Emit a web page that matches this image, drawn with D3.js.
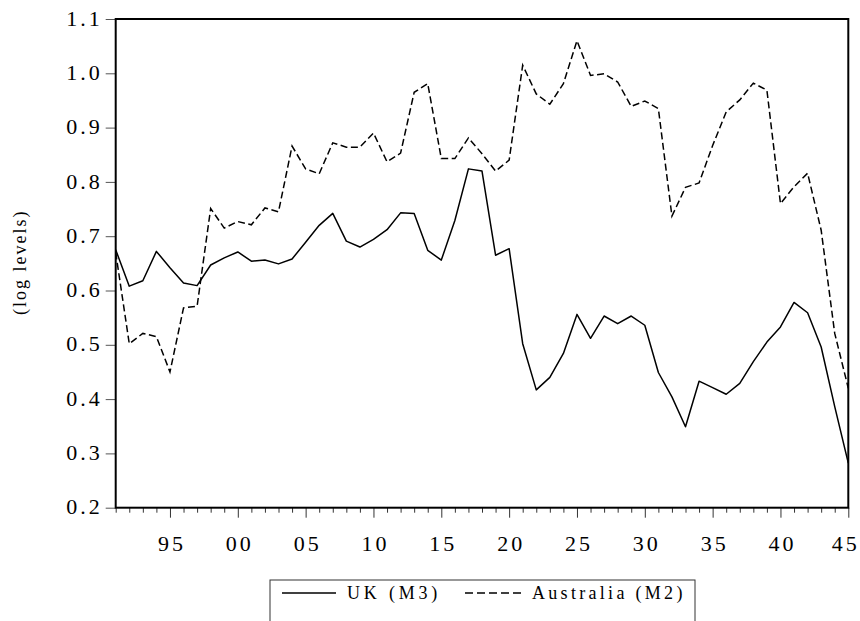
<!DOCTYPE html>
<html lang="en">
    <head>
        <meta charset="utf-8">
        <title>UK and Australia money</title>
        <script type="text/javascript" src="https://cdn.jsdelivr.net/npm/d3@7"></script>
        <style>
          body { margin: 0; background: white; }
          text { font-family: "Liberation Serif", "Times New Roman", serif; fill: black; }
        </style>
    </head>
    <body>
        <script type="text/javascript">

          // data (log levels, one point per year)
          var years = [1991, 1992, 1993, 1994, 1995, 1996, 1997, 1998, 1999, 2000,
                       2001, 2002, 2003, 2004, 2005, 2006, 2007, 2008, 2009, 2010,
                       2011, 2012, 2013, 2014, 2015, 2016, 2017, 2018, 2019, 2020,
                       2021, 2022, 2023, 2024, 2025, 2026, 2027, 2028, 2029, 2030,
                       2031, 2032, 2033, 2034, 2035, 2036, 2037, 2038, 2039, 2040,
                       2041, 2042, 2043, 2044, 2045];

          var ukM3 = [0.675, 0.608, 0.618, 0.672, 0.642, 0.614, 0.609, 0.647, 0.660, 0.671,
                      0.654, 0.656, 0.649, 0.658, 0.689, 0.720, 0.742, 0.691, 0.680, 0.694,
                      0.712, 0.743, 0.742, 0.674, 0.656, 0.729, 0.824, 0.820, 0.665, 0.677,
                      0.502, 0.417, 0.440, 0.484, 0.556, 0.512, 0.553, 0.539, 0.553, 0.536,
                      0.449, 0.404, 0.349, 0.433, 0.421, 0.409, 0.429, 0.469, 0.505, 0.533,
                      0.578, 0.559, 0.496, 0.386, 0.282];

          var australiaM2 = [0.670, 0.502, 0.521, 0.515, 0.450, 0.568, 0.571, 0.751, 0.715, 0.727,
                             0.721, 0.752, 0.745, 0.866, 0.824, 0.815, 0.872, 0.864, 0.864, 0.890,
                             0.837, 0.853, 0.965, 0.981, 0.843, 0.843, 0.881, 0.852, 0.820, 0.840,
                             1.015, 0.962, 0.943, 0.981, 1.060, 0.996, 0.999, 0.984, 0.939, 0.949,
                             0.935, 0.737, 0.790, 0.798, 0.867, 0.929, 0.951, 0.982, 0.969, 0.760,
                             0.791, 0.816, 0.711, 0.521, 0.420];

          var yTicks = [0.2, 0.3, 0.4, 0.5, 0.6, 0.7, 0.8, 0.9, 1.0, 1.1];
          var seriesNames = ["UK (M3)", "Australia (M2)"];

          // sizes
          var width = 860;
          var height = 621;
          var plotLeft = 115.7;
          var plotRight = 848.3;
          var plotTop = 19;
          var plotBottom = 507.7;
          var tickFont = 22;
          var tickSpacing = 3;
          var dash = "7,3.5";

          var svg = d3.select("body")
            .append("svg")
            .attr("width", width)
            .attr("height", height);

          // scales
          var xScale = d3.scaleLinear()
                         .domain([years[0], years[years.length - 1]])
                         .range([plotLeft, plotRight]);
          var yScale = d3.scaleLinear()
                         .domain([yTicks[0], yTicks[yTicks.length - 1]])
                         .range([plotBottom, plotTop]);

          // y axis, ticks outside on the left
          var yAxis = d3.axisLeft(yScale)
                        .tickValues(yTicks)
                        .tickSize(10)
                        .tickPadding(6)
                        .tickFormat(d3.format(".1f"));

          var gy = svg.append("g")
             .attr("transform", "translate(" + [plotLeft, 0] + ")")
             .call(yAxis);
          gy.select(".domain").remove();
          gy.selectAll("line").attr("stroke", "#555");
          gy.selectAll("text")
            .attr("font-size", tickFont)
            .attr("letter-spacing", tickSpacing)
            .attr("dx", tickSpacing)
            .attr("dy", "0.28em");

          // x axis, a tick every year, longer every five
          var xAxis = d3.axisBottom(xScale)
                        .tickValues(years)
                        .tickSize(5)
                        .tickPadding(23)
                        .tickFormat(function(d) {
                          return d % 5 === 0 ? d3.format("02")(d % 100) : "";
                        });

          var gx = svg.append("g")
             .attr("transform", "translate(" + [0, plotBottom] + ")")
             .call(xAxis);
          gx.select(".domain").remove();
          gx.selectAll("line")
            .attr("stroke", "#333")
            .attr("y2", function(d) { return d % 5 === 0 ? 10 : 5; });
          gx.selectAll("text")
            .attr("font-size", tickFont)
            .attr("letter-spacing", tickSpacing)
            .attr("dx", function(d) { return d === 2045 ? -3 : tickSpacing / 2; });

          // frame round the plot
          svg.append("rect")
             .attr("x", plotLeft)
             .attr("y", plotTop)
             .attr("width", plotRight - plotLeft)
             .attr("height", plotBottom - plotTop)
             .attr("fill", "none")
             .attr("stroke", "black")
             .attr("stroke-width", 2);

          // lines
          var line = d3.line()
                       .x(function(d, i) { return xScale(years[i]); })
                       .y(function(d) { return yScale(d); });

          svg.append("path")
             .datum(ukM3)
             .attr("fill", "none")
             .attr("stroke", "black")
             .attr("stroke-width", 1.5)
             .attr("stroke-linejoin", "round")
             .attr("d", line);

          svg.append("path")
             .datum(australiaM2)
             .attr("fill", "none")
             .attr("stroke", "black")
             .attr("stroke-width", 1.5)
             .attr("stroke-dasharray", dash)
             .attr("d", line);

          // y label
          svg.append("text")
             .attr("transform", "translate(" + [26, (plotTop + plotBottom) / 2] + ") rotate(-90)")
             .attr("text-anchor", "middle")
             .attr("font-size", 18)
             .attr("letter-spacing", 2)
             .attr("dx", 1)
             .text("(log levels)");

          // legend
          var legend = svg.append("g");
          legend.append("rect")
             .attr("x", 270)
             .attr("y", 580)
             .attr("width", 425)
             .attr("height", 50)
             .attr("fill", "white")
             .attr("stroke", "#333")
             .attr("stroke-width", 1);

          legend.append("line")
             .attr("x1", 282).attr("x2", 336)
             .attr("y1", 593).attr("y2", 593)
             .attr("stroke", "black")
             .attr("stroke-width", 1.5);
          legend.append("text")
             .attr("x", 347).attr("y", 599)
             .attr("font-size", 18)
             .attr("letter-spacing", 3.8)
             .text(seriesNames[0]);

          legend.append("line")
             .attr("x1", 465).attr("x2", 525)
             .attr("y1", 593).attr("y2", 593)
             .attr("stroke", "black")
             .attr("stroke-width", 1.5)
             .attr("stroke-dasharray", "8,4");
          legend.append("text")
             .attr("x", 532).attr("y", 599)
             .attr("font-size", 18)
             .attr("letter-spacing", 3.3)
             .text(seriesNames[1]);
        </script>
    </body>
</html>
